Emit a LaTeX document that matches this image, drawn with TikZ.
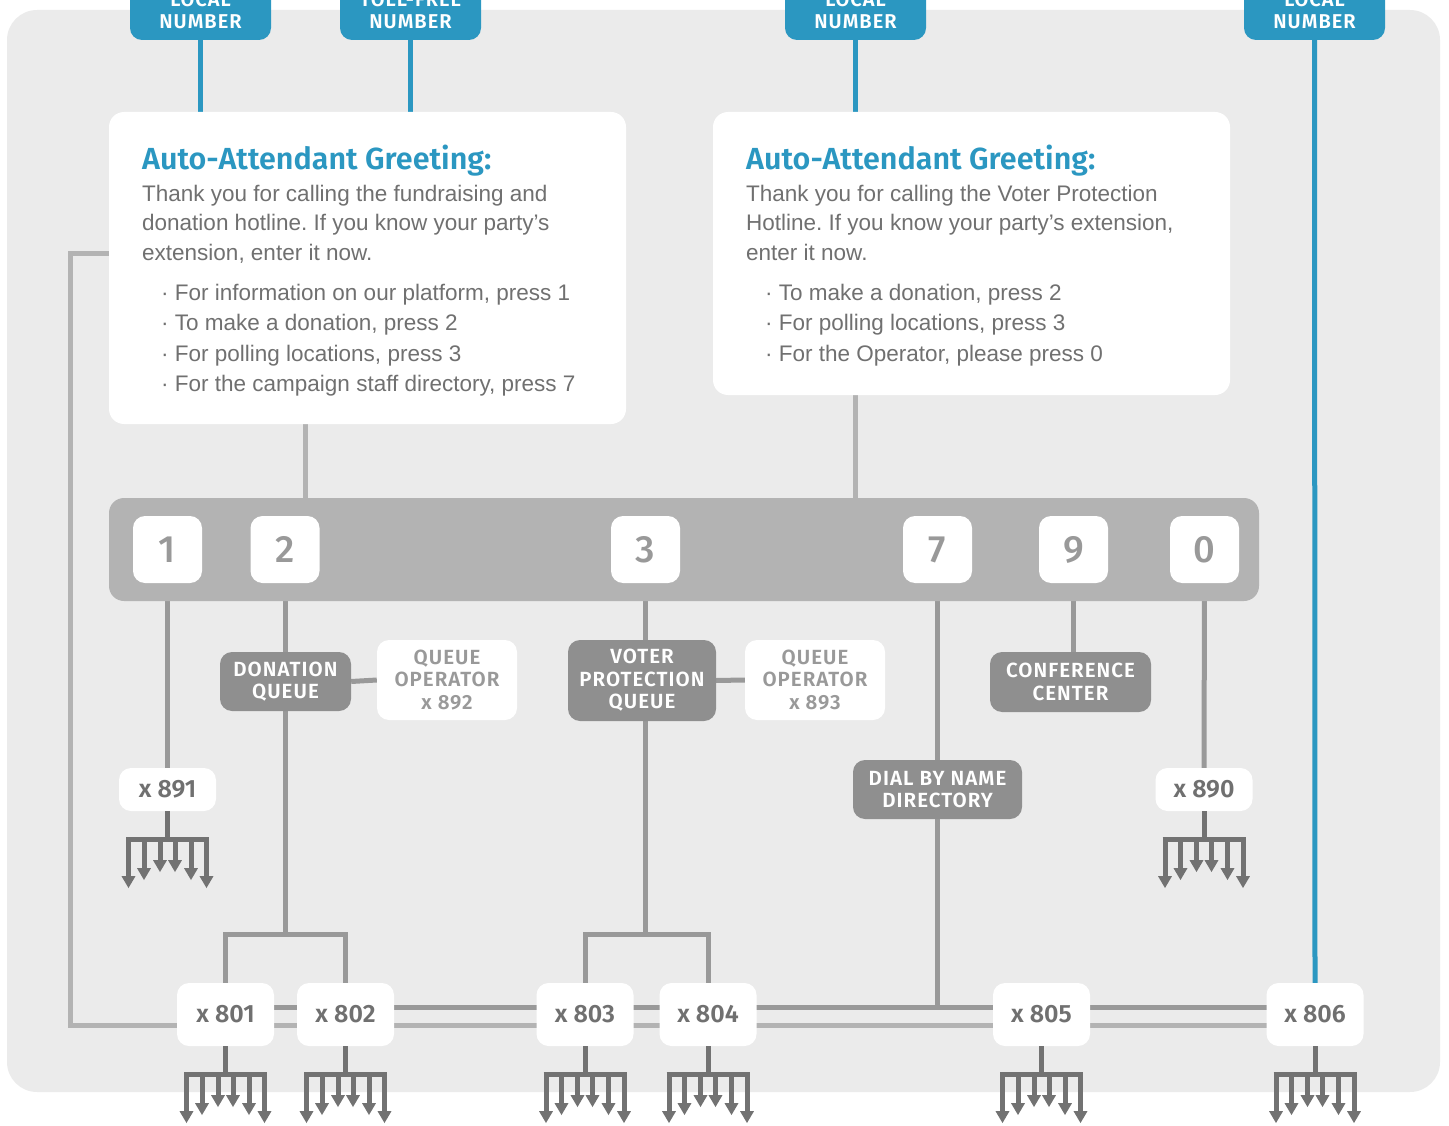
\documentclass[tikz,border=0pt]{standalone}
\usepackage{fontspec}
\setmainfont{Liberation Sans}
\newfontfamily\labelfont{Fira Sans SemiBold}
\newfontfamily\capsfont{Fira Sans SemiBold}[LetterSpace=5]
\newfontfamily\keyfont{Fira Sans Medium}
\frenchspacing
\usetikzlibrary{arrows.meta,backgrounds}

\definecolor{panelgray}{HTML}{EBEBEB}
\definecolor{telblue}{HTML}{2B97C1}
\definecolor{padgray}{HTML}{B3B3B3}
\definecolor{linkgray}{HTML}{999999}
\definecolor{boxgray}{HTML}{8F8F8F}
\definecolor{textgray}{HTML}{707070}
\definecolor{fangray}{HTML}{727272}

\tikzset{
  card/.style={fill=white, rounded corners=15pt, inner sep=0pt},
  tab/.style={fill=telblue, text=white, rounded corners=12pt, minimum width=141pt, minimum height=58pt,
    align=center, inner sep=0pt, font=\capsfont\fontsize{20}{22}\selectfont},
  key/.style={fill=white, text=linkgray, rounded corners=12pt, minimum width=69pt, minimum height=67pt,
    inner sep=0pt, font=\keyfont\fontsize{38}{40}\selectfont},
  queue/.style={fill=boxgray, text=white, rounded corners=12pt, align=center, inner sep=0pt,
    font=\capsfont\fontsize{20.5}{22.5}\selectfont},
  oper/.style={fill=white, text=linkgray, rounded corners=12pt, align=center, inner sep=0pt,
    minimum width=140pt, minimum height=80pt, font=\capsfont\fontsize{20.5}{22.5}\selectfont},
  ext/.style={fill=white, text=textgray, rounded corners=12pt, minimum width=97pt, inner sep=0pt,
    font=\labelfont\fontsize{25}{27}\selectfont},
  greethead/.style={anchor=base west, text=telblue, inner sep=0pt, font=\labelfont\fontsize{30.5}{32}\selectfont},
  greetline/.style={anchor=base west, text=textgray, inner sep=0pt, font=\fontsize{22.5}{27}\selectfont},
  tel/.style={draw=telblue, line width=5pt},
  link/.style={draw=linkgray, line width=5pt},
  thru/.style={draw=padgray, line width=5pt},
  fan/.style={draw=fangray, line width=5pt},
}

% six-way fan below an extension
\newcommand\callfan[1]{%
  \draw[fan] (#1.south) -- ++(0,28) coordinate (#1-bar);
  \draw[fan] ([xshift=-41.5pt]#1-bar) -- ([xshift=41.5pt]#1-bar);
  \foreach \dx/\len in {-39/49,-23.5/41,-7.5/33,7.5/33,23.5/41,39/49}
    \draw[fan,-{Triangle[width=13pt,length=12pt]}] ([xshift=\dx pt]#1-bar) -- ++(0,\len);
}

\begin{document}
\begin{tikzpicture}[x=1pt,y=-1pt]
\clip (0,0) rectangle (1449,1126);

% phone numbers
\node[tab] (tabA) at (200.5,11) {LOCAL\\NUMBER};
\node[tab] (tabB) at (410.5,11) {TOLL-FREE\\NUMBER};
\node[tab] (tabC) at (855.5,11) {LOCAL\\NUMBER};
\node[tab] (tabD) at (1314.5,11) {LOCAL\\NUMBER};

% greetings
\node[card, minimum width=517pt, minimum height=312pt] (greetA) at (367.5,268) {};
\node[card, minimum width=517pt, minimum height=283pt] (greetB) at (971.5,253.5) {};

\node[greethead] (greetA-head) at (142,169.5) {Auto-Attendant Greeting:};
\foreach \txt [count=\i from 0] in {{Thank you for calling the fundraising and},
    {donation hotline. If you know your party’s},{extension, enter it now.}}
  \node[greetline] (greetA-l\i) at (142,201.5+29.5*\i) {\txt};
\foreach \txt [count=\i from 0] in {{· For information on our platform, press 1},{· To make a donation, press 2},
    {· For polling locations, press 3},{· For the campaign staff directory, press 7}}
  \node[greetline] (greetA-b\i) at (161,300+30.5*\i) {\txt};

\node[greethead] (greetB-head) at (746,169.5) {Auto-Attendant Greeting:};
\foreach \txt [count=\i from 0] in {{Thank you for calling the Voter Protection},
    {Hotline. If you know your party’s extension,},{enter it now.}}
  \node[greetline] (greetB-l\i) at (746,201.5+29.5*\i) {\txt};
\foreach \txt [count=\i from 0] in {{· To make a donation, press 2},{· For polling locations, press 3},
    {· For the Operator, please press 0}}
  \node[greetline] (greetB-b\i) at (765,300+30.5*\i) {\txt};

% keypad
\node[fill=padgray, rounded corners=15pt, minimum width=1150pt, minimum height=103pt] (keypad) at (684,549.5) {};
\foreach \k/\x in {1/167.5,2/285,3/645.5,7/937.5,9/1073.5,0/1204.5}
  \node[key] (k\k) at (\x,549.5) {\k};

% queues and services
\node[queue, minimum width=131pt, minimum height=59pt] (donq) at (285.5,681.5) {DONATION\\QUEUE};
\node[oper] (op892) at (447,680) {QUEUE\\OPERATOR\\x 892};
\node[queue, minimum width=148pt, minimum height=81pt] (voteq) at (642,680.5) {VOTER\\PROTECTION\\QUEUE};
\node[oper] (op893) at (815,680) {QUEUE\\OPERATOR\\x 893};
\node[queue, minimum width=161pt, minimum height=60pt] (conf) at (1070.5,682) {CONFERENCE\\CENTER};
\node[queue, minimum width=169pt, minimum height=59pt] (dial) at (937.5,789.5) {DIAL BY NAME\\DIRECTORY};

% extensions
\node[ext, minimum height=43pt] (x891) at (167.5,789.5) {x 891};
\node[ext, minimum height=43pt] (x890) at (1204,789.5) {x 890};
\foreach \n/\x in {801/225.5,802/345.5,803/585,804/708,805/1041.5,806/1315}
  \node[ext, minimum height=63pt] (x\n) at (\x,1014.5) {x \n};

\coordinate (dropA) at (305,0);
\coordinate (loopTop) at (70,254);
\coordinate (loopBot) at (70,1025);
\coordinate (rowA) at (0,1007);
\coordinate (split2) at (285,934);
\coordinate (split3) at (645.5,934);

\begin{scope}[on background layer]
\fill[panelgray, rounded corners=30pt] (7,10) rectangle (1440,1092);
% incoming lines
\draw[tel] (tabA.south) -- (tabA.south |- greetA.north);
\draw[tel] (tabB.south) -- (tabB.south |- greetA.north);
\draw[tel] (tabC.south) -- (tabC.south |- greetB.north);
\draw[tel] (tabD.south) -- (x806.north);
% greetings to keypad
\draw[thru] (greetA.south -| dropA) -- (keypad.north -| dropA);
\draw[thru] (tabC |- greetB.south) -- (tabC |- keypad.north);
% direct extension dialing
\draw[thru] (greetA.west |- loopTop) -- (loopTop) -- (loopBot) -- (x806 |- loopBot);
\draw[link] (x801 |- rowA) -- (x806 |- rowA);
% keys
\draw[link] (k1.south) -- (x891.north);
\draw[link] (k2.south) -- (k2.south |- donq.north);
\draw[link] (donq.east) -- (op892.west);
\draw[link] (k2 |- donq.south) -- (split2);
\draw[link] (x801.north) -- (x801 |- split2) -- (x802 |- split2) -- (x802.north);
\draw[link] (k3.south) -- (k3.south |- voteq.north);
\draw[link] (voteq.east) -- (op893.west);
\draw[link] (k3 |- voteq.south) -- (split3);
\draw[link] (x803.north) -- (x803 |- split3) -- (x804 |- split3) -- (x804.north);
\draw[link] (k7.south) -- (dial.north);
\draw[link] (dial.south) -- (dial |- rowA);
\draw[link] (k9.south) -- (k9.south |- conf.north);
\draw[link] (k0.south) -- (x890.north);
\end{scope}

\foreach \n in {x891,x890,x801,x802,x803,x804,x805,x806}
  {\callfan{\n}}
\end{tikzpicture}
\end{document}
